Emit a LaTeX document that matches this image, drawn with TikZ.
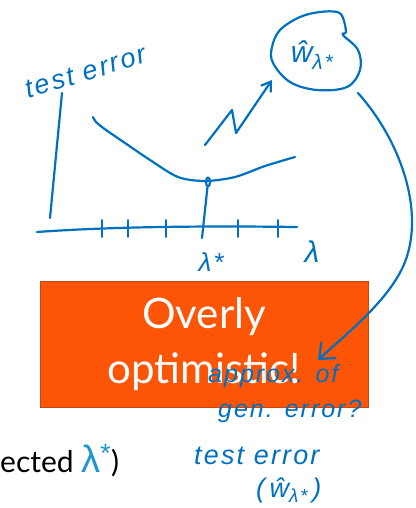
\documentclass[tikz,border=0pt]{standalone}
\usepackage{fontspec}
\setmainfont{Lato}
\newfontfamily\handfont{Liberation Sans}[LetterSpace=8]
\newfontfamily\greekfont{Liberation Sans}
\usetikzlibrary{positioning, arrows.meta, shapes.geometric}
\definecolor{inkblue}{RGB}{0,112,192}
\definecolor{slidecyan}{RGB}{30,150,210}
\definecolor{boxorange}{RGB}{252,85,5}
\definecolor{boxedge}{RGB}{200,70,20}

\begin{document}
\begin{tikzpicture}[
    x=1pt, y=-1pt,
    ink/.style={draw=inkblue, line width=2.2pt, line cap=round, line join=round},
    inkarr/.style={ink, -{Straight Barb[length=9pt, width=12pt]}},
    hand/.style={text=inkblue, font=\handfont\itshape\fontsize{#1}{#1}\selectfont, inner sep=0pt},
    hand/.default=24,
    warn/.style={rectangle, fill=boxorange, draw=boxedge, line width=1pt, minimum width=328pt, minimum height=126pt, align=center, text=white, font=\fontsize{42}{55}\selectfont},
]
\useasboundingbox (0,0) rectangle (415,508);

% orange box and slide caption
\node[warn] (box) at (204,344) {Overly\\optimistic!};
\node[anchor=base west, inner sep=0pt, font=\fontsize{30}{30}\selectfont] (caption) at (0,472) {ected \textcolor{slidecyan}{\greekfont\fontsize{38}{38}\selectfont λ\textsuperscript{*}})};

% axes
\draw[ink] (62,93) -- (50,218);
\draw[ink] (37,232) .. controls (120,226) and (220,226) .. (297,227);
\foreach \tx in {102,128,166,238,278}
    \draw[ink, line width=1.6pt] (\tx,220) -- (\tx,237);
\node[hand=27, rotate=17] (ylab) at (86,72) {test error};

% test error curve
\draw[ink] plot[smooth] coordinates {(93,117) (96,122) (106,130) (125,143) (150,160) (178,177) (205,181) (235,177) (265,166) (295,157)};
\node[ink, ellipse, minimum width=4pt, minimum height=9pt, inner sep=0pt] (dot) at (208,182) {};
\draw[ink] (dot) -- (202,238);
\node[hand=26] (lstar) at (211,262) {λ*};
\node[hand=30] (lam) at (312,252) {λ};

% w-hat blob
\draw[ink] plot[smooth cycle, tension=0.6] coordinates {(343,18) (346,32) (343,35) (358,50) (360,70) (347,87) (317,90) (290,82) (273,63) (272,47) (280,30) (300,17) (320,12) (337,12)};
\node[hand=30] (what) at (312,55) {ŵ\textsubscript{λ*}};

% arrows
\coordinate (zig) at (205,145);
\coordinate (bigstart) at (358,93);
\draw[inkarr] (zig) -- (232,110) -- (236,133) -- (272,80);
\node[hand=25, anchor=north west, align=left] (approx) at (208,364) {approx. of\\[10pt]\hspace*{10pt}gen. error?};
\draw[ink, -{Straight Barb[length=13pt, width=22pt]}] (bigstart) .. controls (400,140) and (425,210) .. (405,262) .. controls (390,300) and (345,335) .. (318,360);

\node[hand=27, anchor=north west, align=left] (testerr) at (194,447) {test error\\[6pt]\hspace*{62pt}(\,ŵ\textsubscript{λ*}\,)};
\end{tikzpicture}
\end{document}
